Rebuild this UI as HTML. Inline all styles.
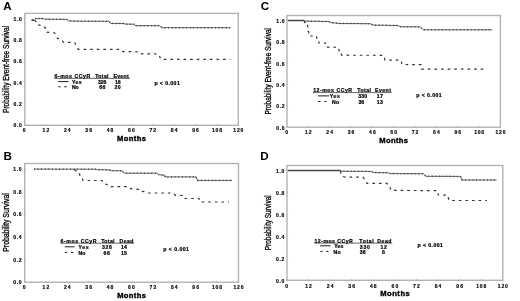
<!DOCTYPE html>
<html><head><meta charset="utf-8"><title>Kaplan-Meier survival by CCyR</title>
<style>
html,body{margin:0;padding:0;background:#fff;width:520px;height:301px;overflow:hidden;}
svg{display:block;font-family:"Liberation Sans", sans-serif;filter:grayscale(1) blur(0.3px);}
</style></head>
<body>
<svg width="520" height="301" viewBox="0 0 520 301">
<rect width="520" height="301" fill="#fff"/>
<rect x="24.8" y="13.4" width="213.5" height="111.89999999999999" fill="none" stroke="#b2b2b2" stroke-width="1.4"/>
<line x1="24.8" y1="125.20" x2="26.1" y2="125.20" stroke="#b2b2b2" stroke-width="0.8"/>
<text x="13.46" y="127.20" font-size="5.0" font-weight="bold" fill="#000" textLength="8.34" lengthAdjust="spacing" stroke="#000" stroke-width="0.15">0.0</text>
<line x1="24.8" y1="103.86" x2="26.1" y2="103.86" stroke="#b2b2b2" stroke-width="0.8"/>
<text x="13.46" y="105.86" font-size="5.0" font-weight="bold" fill="#000" textLength="8.34" lengthAdjust="spacing" stroke="#000" stroke-width="0.15">0.2</text>
<line x1="24.8" y1="82.52" x2="26.1" y2="82.52" stroke="#b2b2b2" stroke-width="0.8"/>
<text x="13.46" y="84.52" font-size="5.0" font-weight="bold" fill="#000" textLength="8.34" lengthAdjust="spacing" stroke="#000" stroke-width="0.15">0.4</text>
<line x1="24.8" y1="61.18" x2="26.1" y2="61.18" stroke="#b2b2b2" stroke-width="0.8"/>
<text x="13.46" y="63.18" font-size="5.0" font-weight="bold" fill="#000" textLength="8.34" lengthAdjust="spacing" stroke="#000" stroke-width="0.15">0.6</text>
<line x1="24.8" y1="39.84" x2="26.1" y2="39.84" stroke="#b2b2b2" stroke-width="0.8"/>
<text x="13.46" y="41.84" font-size="5.0" font-weight="bold" fill="#000" textLength="8.34" lengthAdjust="spacing" stroke="#000" stroke-width="0.15">0.8</text>
<line x1="24.8" y1="18.50" x2="26.1" y2="18.50" stroke="#b2b2b2" stroke-width="0.8"/>
<text x="13.46" y="20.50" font-size="5.0" font-weight="bold" fill="#000" textLength="8.34" lengthAdjust="spacing" stroke="#000" stroke-width="0.15">1.0</text>
<line x1="24.50" y1="125.3" x2="24.50" y2="124.0" stroke="#b2b2b2" stroke-width="0.8"/>
<text x="22.83" y="132.20" font-size="5.0" font-weight="bold" fill="#000" textLength="3.34" lengthAdjust="spacing" stroke="#000" stroke-width="0.15">0</text>
<line x1="45.88" y1="125.3" x2="45.88" y2="124.0" stroke="#b2b2b2" stroke-width="0.8"/>
<text x="42.54" y="132.20" font-size="5.0" font-weight="bold" fill="#000" textLength="6.67" lengthAdjust="spacing" stroke="#000" stroke-width="0.15">12</text>
<line x1="67.26" y1="125.3" x2="67.26" y2="124.0" stroke="#b2b2b2" stroke-width="0.8"/>
<text x="63.92" y="132.20" font-size="5.0" font-weight="bold" fill="#000" textLength="6.67" lengthAdjust="spacing" stroke="#000" stroke-width="0.15">24</text>
<line x1="88.64" y1="125.3" x2="88.64" y2="124.0" stroke="#b2b2b2" stroke-width="0.8"/>
<text x="85.30" y="132.20" font-size="5.0" font-weight="bold" fill="#000" textLength="6.67" lengthAdjust="spacing" stroke="#000" stroke-width="0.15">36</text>
<line x1="110.02" y1="125.3" x2="110.02" y2="124.0" stroke="#b2b2b2" stroke-width="0.8"/>
<text x="106.68" y="132.20" font-size="5.0" font-weight="bold" fill="#000" textLength="6.67" lengthAdjust="spacing" stroke="#000" stroke-width="0.15">48</text>
<line x1="131.40" y1="125.3" x2="131.40" y2="124.0" stroke="#b2b2b2" stroke-width="0.8"/>
<text x="128.06" y="132.20" font-size="5.0" font-weight="bold" fill="#000" textLength="6.67" lengthAdjust="spacing" stroke="#000" stroke-width="0.15">60</text>
<line x1="152.78" y1="125.3" x2="152.78" y2="124.0" stroke="#b2b2b2" stroke-width="0.8"/>
<text x="149.44" y="132.20" font-size="5.0" font-weight="bold" fill="#000" textLength="6.67" lengthAdjust="spacing" stroke="#000" stroke-width="0.15">72</text>
<line x1="174.16" y1="125.3" x2="174.16" y2="124.0" stroke="#b2b2b2" stroke-width="0.8"/>
<text x="170.82" y="132.20" font-size="5.0" font-weight="bold" fill="#000" textLength="6.67" lengthAdjust="spacing" stroke="#000" stroke-width="0.15">84</text>
<line x1="195.54" y1="125.3" x2="195.54" y2="124.0" stroke="#b2b2b2" stroke-width="0.8"/>
<text x="192.20" y="132.20" font-size="5.0" font-weight="bold" fill="#000" textLength="6.67" lengthAdjust="spacing" stroke="#000" stroke-width="0.15">96</text>
<line x1="216.92" y1="125.3" x2="216.92" y2="124.0" stroke="#b2b2b2" stroke-width="0.8"/>
<text x="211.92" y="132.20" font-size="5.0" font-weight="bold" fill="#000" textLength="10.01" lengthAdjust="spacing" stroke="#000" stroke-width="0.15">108</text>
<line x1="238.30" y1="125.3" x2="238.30" y2="124.0" stroke="#b2b2b2" stroke-width="0.8"/>
<text x="233.30" y="132.20" font-size="5.0" font-weight="bold" fill="#000" textLength="10.01" lengthAdjust="spacing" stroke="#000" stroke-width="0.15">120</text>
<text transform="translate(117.05,140.90) scale(1.12,1)" x="0.00" y="0" font-size="6.8" font-weight="bold" fill="#000" textLength="25.83" lengthAdjust="spacing" stroke="#000" stroke-width="0.35">Months</text>
<text transform="translate(8.60,113.20) rotate(-90)" x="0.25" y="0" font-size="8.8" font-weight="normal" fill="#000" textLength="87.13" lengthAdjust="spacingAndGlyphs" stroke="#000" stroke-width="0.3">Probability Event-free Survival</text>
<text x="3.3" y="10.0" font-size="11.6" font-weight="bold" fill="#000">A</text>
<path d="M35.00,18.60 L44.00,18.60 L44.50,19.20 L67.00,19.40 L68.50,20.80 L76.00,21.20 L109.00,21.30 L110.50,23.40 L124.00,23.50 L125.00,24.10 L134.00,24.20 L135.00,25.70 L159.50,25.70 L162.00,27.70 L230.20,27.70" fill="none" stroke="#666" stroke-width="1.0"/>
<path d="M35.00,18.60 L44.00,18.60 L44.50,19.20 L67.00,19.40 L68.50,20.80 L76.00,21.20 L109.00,21.30 L110.50,23.40 L124.00,23.50 L125.00,24.10 L134.00,24.20 L135.00,25.70 L159.50,25.70 L162.00,27.70 L230.20,27.70" fill="none" stroke="#333" stroke-width="1.5" stroke-dasharray="0.8,2.8"/>
<path d="M31.50,20.10 L34.50,20.10" fill="none" stroke="#333" stroke-width="1.6"/>
<path d="M34.50,20.30 L36.50,21.80 L38.50,22.20 L39.00,25.20 L42.00,25.40 L43.50,27.00 L45.00,27.30 L45.50,29.50 L46.50,29.70 L47.00,32.20 L53.50,32.50 L55.00,33.20 L56.50,36.00 L57.50,38.50 L60.00,38.70 L62.50,41.00 L63.50,42.40 L74.50,42.50 L76.00,45.00 L78.00,49.30 L121.50,49.40 L123.00,51.60 L138.00,51.80 L139.00,53.50 L144.60,53.90 L158.50,54.00 L161.00,59.40 L230.40,59.40" fill="none" stroke="#333" stroke-width="1.2" stroke-dasharray="2.6,4"/>
<text transform="translate(54.45,77.80) scale(1.15,1)" x="0.00" y="0" font-size="4.5" font-weight="bold" fill="#000" textLength="31.11" lengthAdjust="spacing" stroke="#000" stroke-width="0.2">6-mos CCyR</text>
<text transform="translate(95.15,77.80) scale(1.15,1)" x="0.00" y="0" font-size="4.5" font-weight="bold" fill="#000" textLength="11.67" lengthAdjust="spacing" stroke="#000" stroke-width="0.2">Total</text>
<text transform="translate(113.45,77.80) scale(1.15,1)" x="0.00" y="0" font-size="4.5" font-weight="bold" fill="#000" textLength="13.23" lengthAdjust="spacing" stroke="#000" stroke-width="0.2">Event</text>
<text transform="translate(72.05,83.60) scale(1.15,1)" x="0.00" y="0" font-size="4.5" font-weight="bold" fill="#000" textLength="8.28" lengthAdjust="spacing" stroke="#000" stroke-width="0.2">Yes</text>
<text transform="translate(98.05,83.70) scale(1.15,1)" x="0.00" y="0" font-size="4.5" font-weight="bold" fill="#000" textLength="7.21" lengthAdjust="spacing" stroke="#000" stroke-width="0.2">326</text>
<text transform="translate(114.95,83.70) scale(1.15,1)" x="0.00" y="0" font-size="4.5" font-weight="bold" fill="#000" textLength="4.88" lengthAdjust="spacing" stroke="#000" stroke-width="0.2">16</text>
<text transform="translate(72.05,89.30) scale(1.15,1)" x="0.00" y="0" font-size="4.5" font-weight="bold" fill="#000" textLength="5.75" lengthAdjust="spacing" stroke="#000" stroke-width="0.2">No</text>
<text transform="translate(99.15,89.40) scale(1.15,1)" x="0.00" y="0" font-size="4.5" font-weight="bold" fill="#000" textLength="5.31" lengthAdjust="spacing" stroke="#000" stroke-width="0.2">66</text>
<text transform="translate(114.55,89.40) scale(1.15,1)" x="0.00" y="0" font-size="4.5" font-weight="bold" fill="#000" textLength="5.23" lengthAdjust="spacing" stroke="#000" stroke-width="0.2">20</text>
<text transform="translate(154.45,84.60) scale(1.15,1)" x="0.00" y="0" font-size="4.5" font-weight="bold" fill="#000" textLength="22.01" lengthAdjust="spacing" stroke="#000" stroke-width="0.2">p &lt; 0.001</text>
<line x1="54.0" y1="78.4" x2="130.0" y2="78.4" stroke="#000" stroke-width="0.6"/>
<line x1="58.2" y1="81.6" x2="68.5" y2="81.6" stroke="#000" stroke-width="0.9"/>
<line x1="58.3" y1="86.8" x2="60.7" y2="86.8" stroke="#000" stroke-width="0.9"/>
<line x1="64.3" y1="86.8" x2="66.7" y2="86.8" stroke="#000" stroke-width="0.9"/>
<rect x="24.7" y="163.5" width="213.8" height="118.69999999999999" fill="none" stroke="#b2b2b2" stroke-width="1.4"/>
<line x1="24.7" y1="282.20" x2="26.0" y2="282.20" stroke="#b2b2b2" stroke-width="0.8"/>
<text x="13.26" y="284.20" font-size="5.0" font-weight="bold" fill="#000" textLength="8.34" lengthAdjust="spacing" stroke="#000" stroke-width="0.15">0.0</text>
<line x1="24.7" y1="259.56" x2="26.0" y2="259.56" stroke="#b2b2b2" stroke-width="0.8"/>
<text x="13.26" y="261.56" font-size="5.0" font-weight="bold" fill="#000" textLength="8.34" lengthAdjust="spacing" stroke="#000" stroke-width="0.15">0.2</text>
<line x1="24.7" y1="236.92" x2="26.0" y2="236.92" stroke="#b2b2b2" stroke-width="0.8"/>
<text x="13.26" y="238.92" font-size="5.0" font-weight="bold" fill="#000" textLength="8.34" lengthAdjust="spacing" stroke="#000" stroke-width="0.15">0.4</text>
<line x1="24.7" y1="214.28" x2="26.0" y2="214.28" stroke="#b2b2b2" stroke-width="0.8"/>
<text x="13.26" y="216.28" font-size="5.0" font-weight="bold" fill="#000" textLength="8.34" lengthAdjust="spacing" stroke="#000" stroke-width="0.15">0.6</text>
<line x1="24.7" y1="191.64" x2="26.0" y2="191.64" stroke="#b2b2b2" stroke-width="0.8"/>
<text x="13.26" y="193.64" font-size="5.0" font-weight="bold" fill="#000" textLength="8.34" lengthAdjust="spacing" stroke="#000" stroke-width="0.15">0.8</text>
<line x1="24.7" y1="169.00" x2="26.0" y2="169.00" stroke="#b2b2b2" stroke-width="0.8"/>
<text x="13.26" y="171.00" font-size="5.0" font-weight="bold" fill="#000" textLength="8.34" lengthAdjust="spacing" stroke="#000" stroke-width="0.15">1.0</text>
<line x1="24.50" y1="282.2" x2="24.50" y2="280.9" stroke="#b2b2b2" stroke-width="0.8"/>
<text x="22.83" y="289.10" font-size="5.0" font-weight="bold" fill="#000" textLength="3.34" lengthAdjust="spacing" stroke="#000" stroke-width="0.15">0</text>
<line x1="45.89" y1="282.2" x2="45.89" y2="280.9" stroke="#b2b2b2" stroke-width="0.8"/>
<text x="42.55" y="289.10" font-size="5.0" font-weight="bold" fill="#000" textLength="6.67" lengthAdjust="spacing" stroke="#000" stroke-width="0.15">12</text>
<line x1="67.28" y1="282.2" x2="67.28" y2="280.9" stroke="#b2b2b2" stroke-width="0.8"/>
<text x="63.94" y="289.10" font-size="5.0" font-weight="bold" fill="#000" textLength="6.67" lengthAdjust="spacing" stroke="#000" stroke-width="0.15">24</text>
<line x1="88.67" y1="282.2" x2="88.67" y2="280.9" stroke="#b2b2b2" stroke-width="0.8"/>
<text x="85.33" y="289.10" font-size="5.0" font-weight="bold" fill="#000" textLength="6.67" lengthAdjust="spacing" stroke="#000" stroke-width="0.15">36</text>
<line x1="110.06" y1="282.2" x2="110.06" y2="280.9" stroke="#b2b2b2" stroke-width="0.8"/>
<text x="106.72" y="289.10" font-size="5.0" font-weight="bold" fill="#000" textLength="6.67" lengthAdjust="spacing" stroke="#000" stroke-width="0.15">48</text>
<line x1="131.45" y1="282.2" x2="131.45" y2="280.9" stroke="#b2b2b2" stroke-width="0.8"/>
<text x="128.11" y="289.10" font-size="5.0" font-weight="bold" fill="#000" textLength="6.67" lengthAdjust="spacing" stroke="#000" stroke-width="0.15">60</text>
<line x1="152.84" y1="282.2" x2="152.84" y2="280.9" stroke="#b2b2b2" stroke-width="0.8"/>
<text x="149.50" y="289.10" font-size="5.0" font-weight="bold" fill="#000" textLength="6.67" lengthAdjust="spacing" stroke="#000" stroke-width="0.15">72</text>
<line x1="174.23" y1="282.2" x2="174.23" y2="280.9" stroke="#b2b2b2" stroke-width="0.8"/>
<text x="170.89" y="289.10" font-size="5.0" font-weight="bold" fill="#000" textLength="6.67" lengthAdjust="spacing" stroke="#000" stroke-width="0.15">84</text>
<line x1="195.62" y1="282.2" x2="195.62" y2="280.9" stroke="#b2b2b2" stroke-width="0.8"/>
<text x="192.28" y="289.10" font-size="5.0" font-weight="bold" fill="#000" textLength="6.67" lengthAdjust="spacing" stroke="#000" stroke-width="0.15">96</text>
<line x1="217.01" y1="282.2" x2="217.01" y2="280.9" stroke="#b2b2b2" stroke-width="0.8"/>
<text x="212.01" y="289.10" font-size="5.0" font-weight="bold" fill="#000" textLength="10.01" lengthAdjust="spacing" stroke="#000" stroke-width="0.15">108</text>
<line x1="238.40" y1="282.2" x2="238.40" y2="280.9" stroke="#b2b2b2" stroke-width="0.8"/>
<text x="233.40" y="289.10" font-size="5.0" font-weight="bold" fill="#000" textLength="10.01" lengthAdjust="spacing" stroke="#000" stroke-width="0.15">120</text>
<text transform="translate(117.15,298.30) scale(1.12,1)" x="0.00" y="0" font-size="6.8" font-weight="bold" fill="#000" textLength="25.74" lengthAdjust="spacing" stroke="#000" stroke-width="0.35">Months</text>
<text transform="translate(8.80,252.00) rotate(-90)" x="0.25" y="0" font-size="9.0" font-weight="normal" fill="#000" textLength="58.52" lengthAdjust="spacingAndGlyphs" stroke="#000" stroke-width="0.3">Probability Survival</text>
<text x="3.4" y="160.2" font-size="11.6" font-weight="bold" fill="#000">B</text>
<path d="M34.00,169.10 L96.00,169.20 L97.00,169.70 L110.00,169.90 L111.00,170.70 L122.00,170.80 L124.50,173.20 L157.00,173.20 L159.00,174.80 L164.60,175.20 L165.00,176.90 L196.20,176.90 L197.50,180.40 L232.00,180.40" fill="none" stroke="#666" stroke-width="1.0"/>
<path d="M34.00,169.10 L96.00,169.20 L97.00,169.70 L110.00,169.90 L111.00,170.70 L122.00,170.80 L124.50,173.20 L157.00,173.20 L159.00,174.80 L164.60,175.20 L165.00,176.90 L196.20,176.90 L197.50,180.40 L232.00,180.40" fill="none" stroke="#333" stroke-width="1.5" stroke-dasharray="0.8,2.8"/>
<path d="M74.50,169.60 L75.00,170.50 L77.00,171.00 L78.00,173.50 L79.50,174.00 L80.50,177.00 L82.00,177.50 L83.00,180.50 L102.00,180.50 L103.00,182.00 L104.00,184.00 L107.00,184.50 L108.50,186.50 L126.00,186.70 L127.00,187.20 L130.00,187.40 L131.00,188.80 L137.50,189.30 L140.00,189.50 L141.00,191.40 L144.00,191.60 L146.50,193.00 L173.00,193.00 L175.40,195.40 L184.00,195.50 L185.00,198.50 L199.00,198.50 L200.00,202.00 L229.00,202.00" fill="none" stroke="#333" stroke-width="1.2" stroke-dasharray="2.6,4"/>
<text transform="translate(60.55,242.50) scale(1.15,1)" x="0.00" y="0" font-size="4.5" font-weight="bold" fill="#000" textLength="31.28" lengthAdjust="spacing" stroke="#000" stroke-width="0.2">6-mos CCyR</text>
<text transform="translate(101.15,242.50) scale(1.15,1)" x="0.00" y="0" font-size="4.5" font-weight="bold" fill="#000" textLength="11.67" lengthAdjust="spacing" stroke="#000" stroke-width="0.2">Total</text>
<text transform="translate(119.45,242.50) scale(1.15,1)" x="0.00" y="0" font-size="4.5" font-weight="bold" fill="#000" textLength="12.24" lengthAdjust="spacing" stroke="#000" stroke-width="0.2">Dead</text>
<text transform="translate(78.45,249.00) scale(1.15,1)" x="0.00" y="0" font-size="4.5" font-weight="bold" fill="#000" textLength="8.80" lengthAdjust="spacing" stroke="#000" stroke-width="0.2">Yes</text>
<text transform="translate(102.05,249.10) scale(1.15,1)" x="0.00" y="0" font-size="4.5" font-weight="bold" fill="#000" textLength="8.60" lengthAdjust="spacing" stroke="#000" stroke-width="0.2">326</text>
<text transform="translate(120.95,249.10) scale(1.15,1)" x="0.00" y="0" font-size="4.5" font-weight="bold" fill="#000" textLength="5.18" lengthAdjust="spacing" stroke="#000" stroke-width="0.2">14</text>
<text transform="translate(78.45,255.20) scale(1.15,1)" x="0.00" y="0" font-size="4.5" font-weight="bold" fill="#000" textLength="6.10" lengthAdjust="spacing" stroke="#000" stroke-width="0.2">No</text>
<text transform="translate(103.45,255.30) scale(1.15,1)" x="0.00" y="0" font-size="4.5" font-weight="bold" fill="#000" textLength="5.66" lengthAdjust="spacing" stroke="#000" stroke-width="0.2">66</text>
<text transform="translate(120.95,255.30) scale(1.15,1)" x="0.00" y="0" font-size="4.5" font-weight="bold" fill="#000" textLength="5.23" lengthAdjust="spacing" stroke="#000" stroke-width="0.2">15</text>
<text transform="translate(163.25,250.60) scale(1.15,1)" x="0.00" y="0" font-size="4.5" font-weight="bold" fill="#000" textLength="22.36" lengthAdjust="spacing" stroke="#000" stroke-width="0.2">p &lt; 0.001</text>
<line x1="60.2" y1="243.2" x2="134.2" y2="243.2" stroke="#000" stroke-width="0.6"/>
<line x1="64.8" y1="246.8" x2="74.5" y2="246.8" stroke="#000" stroke-width="0.9"/>
<line x1="64.9" y1="252.5" x2="67.1" y2="252.5" stroke="#000" stroke-width="0.9"/>
<line x1="71.1" y1="252.5" x2="73.4" y2="252.5" stroke="#000" stroke-width="0.9"/>
<rect x="287.0" y="15.5" width="213.39999999999998" height="111.7" fill="none" stroke="#b2b2b2" stroke-width="1.4"/>
<line x1="287.0" y1="127.20" x2="288.3" y2="127.20" stroke="#b2b2b2" stroke-width="0.8"/>
<text x="276.16" y="129.70" font-size="5.0" font-weight="bold" fill="#000" textLength="8.34" lengthAdjust="spacing" stroke="#000" stroke-width="0.15">0.0</text>
<line x1="287.0" y1="105.84" x2="288.3" y2="105.84" stroke="#b2b2b2" stroke-width="0.8"/>
<text x="276.16" y="108.34" font-size="5.0" font-weight="bold" fill="#000" textLength="8.34" lengthAdjust="spacing" stroke="#000" stroke-width="0.15">0.2</text>
<line x1="287.0" y1="84.48" x2="288.3" y2="84.48" stroke="#b2b2b2" stroke-width="0.8"/>
<text x="276.16" y="86.98" font-size="5.0" font-weight="bold" fill="#000" textLength="8.34" lengthAdjust="spacing" stroke="#000" stroke-width="0.15">0.4</text>
<line x1="287.0" y1="63.12" x2="288.3" y2="63.12" stroke="#b2b2b2" stroke-width="0.8"/>
<text x="276.16" y="65.62" font-size="5.0" font-weight="bold" fill="#000" textLength="8.34" lengthAdjust="spacing" stroke="#000" stroke-width="0.15">0.6</text>
<line x1="287.0" y1="41.76" x2="288.3" y2="41.76" stroke="#b2b2b2" stroke-width="0.8"/>
<text x="276.16" y="44.26" font-size="5.0" font-weight="bold" fill="#000" textLength="8.34" lengthAdjust="spacing" stroke="#000" stroke-width="0.15">0.8</text>
<line x1="287.0" y1="20.40" x2="288.3" y2="20.40" stroke="#b2b2b2" stroke-width="0.8"/>
<text x="276.16" y="22.90" font-size="5.0" font-weight="bold" fill="#000" textLength="8.34" lengthAdjust="spacing" stroke="#000" stroke-width="0.15">1.0</text>
<line x1="286.90" y1="127.2" x2="286.90" y2="125.9" stroke="#b2b2b2" stroke-width="0.8"/>
<text x="285.23" y="133.80" font-size="5.0" font-weight="bold" fill="#000" textLength="3.34" lengthAdjust="spacing" stroke="#000" stroke-width="0.15">0</text>
<line x1="308.26" y1="127.2" x2="308.26" y2="125.9" stroke="#b2b2b2" stroke-width="0.8"/>
<text x="304.92" y="133.80" font-size="5.0" font-weight="bold" fill="#000" textLength="6.67" lengthAdjust="spacing" stroke="#000" stroke-width="0.15">12</text>
<line x1="329.62" y1="127.2" x2="329.62" y2="125.9" stroke="#b2b2b2" stroke-width="0.8"/>
<text x="326.28" y="133.80" font-size="5.0" font-weight="bold" fill="#000" textLength="6.67" lengthAdjust="spacing" stroke="#000" stroke-width="0.15">24</text>
<line x1="350.98" y1="127.2" x2="350.98" y2="125.9" stroke="#b2b2b2" stroke-width="0.8"/>
<text x="347.64" y="133.80" font-size="5.0" font-weight="bold" fill="#000" textLength="6.67" lengthAdjust="spacing" stroke="#000" stroke-width="0.15">36</text>
<line x1="372.34" y1="127.2" x2="372.34" y2="125.9" stroke="#b2b2b2" stroke-width="0.8"/>
<text x="369.00" y="133.80" font-size="5.0" font-weight="bold" fill="#000" textLength="6.67" lengthAdjust="spacing" stroke="#000" stroke-width="0.15">48</text>
<line x1="393.70" y1="127.2" x2="393.70" y2="125.9" stroke="#b2b2b2" stroke-width="0.8"/>
<text x="390.36" y="133.80" font-size="5.0" font-weight="bold" fill="#000" textLength="6.67" lengthAdjust="spacing" stroke="#000" stroke-width="0.15">60</text>
<line x1="415.06" y1="127.2" x2="415.06" y2="125.9" stroke="#b2b2b2" stroke-width="0.8"/>
<text x="411.72" y="133.80" font-size="5.0" font-weight="bold" fill="#000" textLength="6.67" lengthAdjust="spacing" stroke="#000" stroke-width="0.15">72</text>
<line x1="436.42" y1="127.2" x2="436.42" y2="125.9" stroke="#b2b2b2" stroke-width="0.8"/>
<text x="433.08" y="133.80" font-size="5.0" font-weight="bold" fill="#000" textLength="6.67" lengthAdjust="spacing" stroke="#000" stroke-width="0.15">84</text>
<line x1="457.78" y1="127.2" x2="457.78" y2="125.9" stroke="#b2b2b2" stroke-width="0.8"/>
<text x="454.44" y="133.80" font-size="5.0" font-weight="bold" fill="#000" textLength="6.67" lengthAdjust="spacing" stroke="#000" stroke-width="0.15">96</text>
<line x1="479.14" y1="127.2" x2="479.14" y2="125.9" stroke="#b2b2b2" stroke-width="0.8"/>
<text x="474.14" y="133.80" font-size="5.0" font-weight="bold" fill="#000" textLength="10.01" lengthAdjust="spacing" stroke="#000" stroke-width="0.15">108</text>
<line x1="500.50" y1="127.2" x2="500.50" y2="125.9" stroke="#b2b2b2" stroke-width="0.8"/>
<text x="495.50" y="133.80" font-size="5.0" font-weight="bold" fill="#000" textLength="10.01" lengthAdjust="spacing" stroke="#000" stroke-width="0.15">120</text>
<text transform="translate(379.25,142.50) scale(1.12,1)" x="0.00" y="0" font-size="6.8" font-weight="bold" fill="#000" textLength="25.65" lengthAdjust="spacing" stroke="#000" stroke-width="0.35">Months</text>
<text transform="translate(270.70,114.70) rotate(-90)" x="0.25" y="0" font-size="8.8" font-weight="normal" fill="#000" textLength="86.43" lengthAdjust="spacingAndGlyphs" stroke="#000" stroke-width="0.3">Probability Event-free Survival</text>
<text x="260.7" y="10.0" font-size="11.6" font-weight="bold" fill="#000">C</text>
<path d="M288.00,20.50 L304.00,20.50" fill="none" stroke="#444" stroke-width="1.5"/>
<path d="M304.00,21.10 L329.00,21.50 L330.00,22.50 L340.00,23.50 L370.40,23.70 L373.00,25.10 L386.00,25.30 L398.00,25.60 L401.00,26.80 L420.40,26.90 L423.00,29.80 L492.30,29.80" fill="none" stroke="#666" stroke-width="1.0"/>
<path d="M304.00,21.10 L329.00,21.50 L330.00,22.50 L340.00,23.50 L370.40,23.70 L373.00,25.10 L386.00,25.30 L398.00,25.60 L401.00,26.80 L420.40,26.90 L423.00,29.80 L492.30,29.80" fill="none" stroke="#333" stroke-width="1.5" stroke-dasharray="0.8,2.8"/>
<path d="M304.50,21.00 L304.50,22.50 L307.50,22.70 L307.60,26.70 L308.00,27.00 L308.00,31.40 L308.70,31.60 L308.90,36.00 L316.50,36.00 L317.00,39.20 L318.60,39.50 L318.80,43.00 L325.50,43.00 L326.00,47.10 L338.50,47.30 L339.20,51.20 L341.00,51.30 L341.50,55.20 L383.50,55.30 L385.00,60.10 L401.00,60.20 L402.00,64.50 L421.00,64.60 L421.50,69.20 L483.60,69.20" fill="none" stroke="#333" stroke-width="1.2" stroke-dasharray="2.6,4"/>
<text transform="translate(313.15,92.00) scale(1.15,1)" x="0.00" y="0" font-size="4.5" font-weight="bold" fill="#000" textLength="33.83" lengthAdjust="spacing" stroke="#000" stroke-width="0.2">12-mos CCyR</text>
<text transform="translate(357.35,92.00) scale(1.15,1)" x="0.00" y="0" font-size="4.5" font-weight="bold" fill="#000" textLength="11.85" lengthAdjust="spacing" stroke="#000" stroke-width="0.2">Total</text>
<text transform="translate(375.05,92.00) scale(1.15,1)" x="0.00" y="0" font-size="4.5" font-weight="bold" fill="#000" textLength="13.84" lengthAdjust="spacing" stroke="#000" stroke-width="0.2">Event</text>
<text transform="translate(329.75,98.30) scale(1.15,1)" x="0.00" y="0" font-size="4.5" font-weight="bold" fill="#000" textLength="8.80" lengthAdjust="spacing" stroke="#000" stroke-width="0.2">Yes</text>
<text transform="translate(358.25,98.10) scale(1.15,1)" x="0.00" y="0" font-size="4.5" font-weight="bold" fill="#000" textLength="7.64" lengthAdjust="spacing" stroke="#000" stroke-width="0.2">330</text>
<text transform="translate(376.85,98.10) scale(1.15,1)" x="0.00" y="0" font-size="4.5" font-weight="bold" fill="#000" textLength="5.14" lengthAdjust="spacing" stroke="#000" stroke-width="0.2">17</text>
<text transform="translate(332.05,104.00) scale(1.15,1)" x="0.00" y="0" font-size="4.5" font-weight="bold" fill="#000" textLength="6.10" lengthAdjust="spacing" stroke="#000" stroke-width="0.2">No</text>
<text transform="translate(358.55,103.80) scale(1.15,1)" x="0.00" y="0" font-size="4.5" font-weight="bold" fill="#000" textLength="4.79" lengthAdjust="spacing" stroke="#000" stroke-width="0.2">36</text>
<text transform="translate(376.85,103.80) scale(1.15,1)" x="0.00" y="0" font-size="4.5" font-weight="bold" fill="#000" textLength="5.14" lengthAdjust="spacing" stroke="#000" stroke-width="0.2">13</text>
<text transform="translate(416.25,97.20) scale(1.15,1)" x="0.00" y="0" font-size="4.5" font-weight="bold" fill="#000" textLength="22.10" lengthAdjust="spacing" stroke="#000" stroke-width="0.2">p &lt; 0.001</text>
<line x1="312.8" y1="92.6" x2="391.7" y2="92.6" stroke="#000" stroke-width="0.6"/>
<line x1="317.9" y1="95.9" x2="329.1" y2="95.9" stroke="#000" stroke-width="0.9"/>
<line x1="318.3" y1="101.5" x2="320.5" y2="101.5" stroke="#000" stroke-width="0.9"/>
<line x1="324.4" y1="101.5" x2="326.6" y2="101.5" stroke="#000" stroke-width="0.9"/>
<rect x="287.0" y="165.5" width="215.8" height="114.80000000000001" fill="none" stroke="#b2b2b2" stroke-width="1.4"/>
<line x1="287.0" y1="280.30" x2="288.3" y2="280.30" stroke="#b2b2b2" stroke-width="0.8"/>
<text x="275.96" y="282.50" font-size="5.0" font-weight="bold" fill="#000" textLength="8.34" lengthAdjust="spacing" stroke="#000" stroke-width="0.15">0.0</text>
<line x1="287.0" y1="258.36" x2="288.3" y2="258.36" stroke="#b2b2b2" stroke-width="0.8"/>
<text x="275.96" y="260.56" font-size="5.0" font-weight="bold" fill="#000" textLength="8.34" lengthAdjust="spacing" stroke="#000" stroke-width="0.15">0.2</text>
<line x1="287.0" y1="236.42" x2="288.3" y2="236.42" stroke="#b2b2b2" stroke-width="0.8"/>
<text x="275.96" y="238.62" font-size="5.0" font-weight="bold" fill="#000" textLength="8.34" lengthAdjust="spacing" stroke="#000" stroke-width="0.15">0.4</text>
<line x1="287.0" y1="214.48" x2="288.3" y2="214.48" stroke="#b2b2b2" stroke-width="0.8"/>
<text x="275.96" y="216.68" font-size="5.0" font-weight="bold" fill="#000" textLength="8.34" lengthAdjust="spacing" stroke="#000" stroke-width="0.15">0.6</text>
<line x1="287.0" y1="192.54" x2="288.3" y2="192.54" stroke="#b2b2b2" stroke-width="0.8"/>
<text x="275.96" y="194.74" font-size="5.0" font-weight="bold" fill="#000" textLength="8.34" lengthAdjust="spacing" stroke="#000" stroke-width="0.15">0.8</text>
<line x1="287.0" y1="170.60" x2="288.3" y2="170.60" stroke="#b2b2b2" stroke-width="0.8"/>
<text x="275.96" y="172.80" font-size="5.0" font-weight="bold" fill="#000" textLength="8.34" lengthAdjust="spacing" stroke="#000" stroke-width="0.15">1.0</text>
<line x1="286.90" y1="280.3" x2="286.90" y2="279.0" stroke="#b2b2b2" stroke-width="0.8"/>
<text x="285.23" y="287.80" font-size="5.0" font-weight="bold" fill="#000" textLength="3.34" lengthAdjust="spacing" stroke="#000" stroke-width="0.15">0</text>
<line x1="308.49" y1="280.3" x2="308.49" y2="279.0" stroke="#b2b2b2" stroke-width="0.8"/>
<text x="305.15" y="287.80" font-size="5.0" font-weight="bold" fill="#000" textLength="6.67" lengthAdjust="spacing" stroke="#000" stroke-width="0.15">12</text>
<line x1="330.08" y1="280.3" x2="330.08" y2="279.0" stroke="#b2b2b2" stroke-width="0.8"/>
<text x="326.74" y="287.80" font-size="5.0" font-weight="bold" fill="#000" textLength="6.67" lengthAdjust="spacing" stroke="#000" stroke-width="0.15">24</text>
<line x1="351.67" y1="280.3" x2="351.67" y2="279.0" stroke="#b2b2b2" stroke-width="0.8"/>
<text x="348.33" y="287.80" font-size="5.0" font-weight="bold" fill="#000" textLength="6.67" lengthAdjust="spacing" stroke="#000" stroke-width="0.15">36</text>
<line x1="373.26" y1="280.3" x2="373.26" y2="279.0" stroke="#b2b2b2" stroke-width="0.8"/>
<text x="369.92" y="287.80" font-size="5.0" font-weight="bold" fill="#000" textLength="6.67" lengthAdjust="spacing" stroke="#000" stroke-width="0.15">48</text>
<line x1="394.85" y1="280.3" x2="394.85" y2="279.0" stroke="#b2b2b2" stroke-width="0.8"/>
<text x="391.51" y="287.80" font-size="5.0" font-weight="bold" fill="#000" textLength="6.67" lengthAdjust="spacing" stroke="#000" stroke-width="0.15">60</text>
<line x1="416.44" y1="280.3" x2="416.44" y2="279.0" stroke="#b2b2b2" stroke-width="0.8"/>
<text x="413.10" y="287.80" font-size="5.0" font-weight="bold" fill="#000" textLength="6.67" lengthAdjust="spacing" stroke="#000" stroke-width="0.15">72</text>
<line x1="438.03" y1="280.3" x2="438.03" y2="279.0" stroke="#b2b2b2" stroke-width="0.8"/>
<text x="434.69" y="287.80" font-size="5.0" font-weight="bold" fill="#000" textLength="6.67" lengthAdjust="spacing" stroke="#000" stroke-width="0.15">84</text>
<line x1="459.62" y1="280.3" x2="459.62" y2="279.0" stroke="#b2b2b2" stroke-width="0.8"/>
<text x="456.28" y="287.80" font-size="5.0" font-weight="bold" fill="#000" textLength="6.67" lengthAdjust="spacing" stroke="#000" stroke-width="0.15">96</text>
<line x1="481.21" y1="280.3" x2="481.21" y2="279.0" stroke="#b2b2b2" stroke-width="0.8"/>
<text x="476.21" y="287.80" font-size="5.0" font-weight="bold" fill="#000" textLength="10.01" lengthAdjust="spacing" stroke="#000" stroke-width="0.15">108</text>
<line x1="502.80" y1="280.3" x2="502.80" y2="279.0" stroke="#b2b2b2" stroke-width="0.8"/>
<text x="497.80" y="287.80" font-size="5.0" font-weight="bold" fill="#000" textLength="10.01" lengthAdjust="spacing" stroke="#000" stroke-width="0.15">120</text>
<text transform="translate(380.25,296.20) scale(1.12,1)" x="0.00" y="0" font-size="6.8" font-weight="bold" fill="#000" textLength="26.37" lengthAdjust="spacing" stroke="#000" stroke-width="0.35">Months</text>
<text transform="translate(270.70,250.50) rotate(-90)" x="0.25" y="0" font-size="9.0" font-weight="normal" fill="#000" textLength="55.02" lengthAdjust="spacingAndGlyphs" stroke="#000" stroke-width="0.3">Probability Survival</text>
<text x="260.3" y="160.1" font-size="11.6" font-weight="bold" fill="#000">D</text>
<path d="M288.00,170.60 L340.00,170.60" fill="none" stroke="#444" stroke-width="1.5"/>
<path d="M340.00,171.00 L345.00,171.30 L372.00,171.40 L373.00,172.60 L388.50,172.70 L390.00,173.60 L423.30,173.70 L426.00,176.30 L460.50,176.40 L462.00,180.00 L496.60,180.00" fill="none" stroke="#666" stroke-width="1.0"/>
<path d="M340.00,171.00 L345.00,171.30 L372.00,171.40 L373.00,172.60 L388.50,172.70 L390.00,173.60 L423.30,173.70 L426.00,176.30 L460.50,176.40 L462.00,180.00 L496.60,180.00" fill="none" stroke="#333" stroke-width="1.5" stroke-dasharray="0.8,2.8"/>
<path d="M340.50,171.20 L340.80,173.10 L342.50,173.40 L343.50,176.60 L345.00,177.20 L363.00,177.20 L365.00,180.00 L366.00,180.50 L367.00,183.40 L387.00,183.40 L388.50,186.90 L390.00,187.20 L391.00,190.40 L437.50,190.60 L438.30,195.00 L447.70,195.20 L449.00,200.50 L487.00,200.50" fill="none" stroke="#333" stroke-width="1.2" stroke-dasharray="2.6,4"/>
<text transform="translate(314.55,242.50) scale(1.15,1)" x="0.00" y="0" font-size="4.5" font-weight="bold" fill="#000" textLength="33.23" lengthAdjust="spacing" stroke="#000" stroke-width="0.2">12-mos CCyR</text>
<text transform="translate(359.35,242.50) scale(1.15,1)" x="0.00" y="0" font-size="4.5" font-weight="bold" fill="#000" textLength="12.54" lengthAdjust="spacing" stroke="#000" stroke-width="0.2">Total</text>
<text transform="translate(377.15,242.50) scale(1.15,1)" x="0.00" y="0" font-size="4.5" font-weight="bold" fill="#000" textLength="12.50" lengthAdjust="spacing" stroke="#000" stroke-width="0.2">Dead</text>
<text transform="translate(334.15,248.30) scale(1.15,1)" x="0.00" y="0" font-size="4.5" font-weight="bold" fill="#000" textLength="7.93" lengthAdjust="spacing" stroke="#000" stroke-width="0.2">Yes</text>
<text transform="translate(359.85,248.60) scale(1.15,1)" x="0.00" y="0" font-size="4.5" font-weight="bold" fill="#000" textLength="8.77" lengthAdjust="spacing" stroke="#000" stroke-width="0.2">330</text>
<text transform="translate(380.55,248.60) scale(1.15,1)" x="0.00" y="0" font-size="4.5" font-weight="bold" fill="#000" textLength="5.40" lengthAdjust="spacing" stroke="#000" stroke-width="0.2">12</text>
<text transform="translate(333.45,254.20) scale(1.15,1)" x="0.00" y="0" font-size="4.5" font-weight="bold" fill="#000" textLength="6.19" lengthAdjust="spacing" stroke="#000" stroke-width="0.2">No</text>
<text transform="translate(359.85,254.40) scale(1.15,1)" x="0.00" y="0" font-size="4.5" font-weight="bold" fill="#000" textLength="5.05" lengthAdjust="spacing" stroke="#000" stroke-width="0.2">36</text>
<text transform="translate(381.95,254.40) scale(1.15,1)" x="0.00" y="0" font-size="4.5" font-weight="bold" fill="#000" textLength="2.50" lengthAdjust="spacing" stroke="#000" stroke-width="0.2">8</text>
<text transform="translate(417.45,247.20) scale(1.15,1)" x="0.00" y="0" font-size="4.5" font-weight="bold" fill="#000" textLength="22.19" lengthAdjust="spacing" stroke="#000" stroke-width="0.2">p &lt; 0.001</text>
<line x1="314.2" y1="243.1" x2="392.3" y2="243.1" stroke="#000" stroke-width="0.6"/>
<line x1="320.1" y1="245.8" x2="330.5" y2="245.8" stroke="#000" stroke-width="0.9"/>
<line x1="320.3" y1="251.4" x2="322.5" y2="251.4" stroke="#000" stroke-width="0.9"/>
<line x1="326.2" y1="251.4" x2="328.5" y2="251.4" stroke="#000" stroke-width="0.9"/>
</svg>
</body></html>
